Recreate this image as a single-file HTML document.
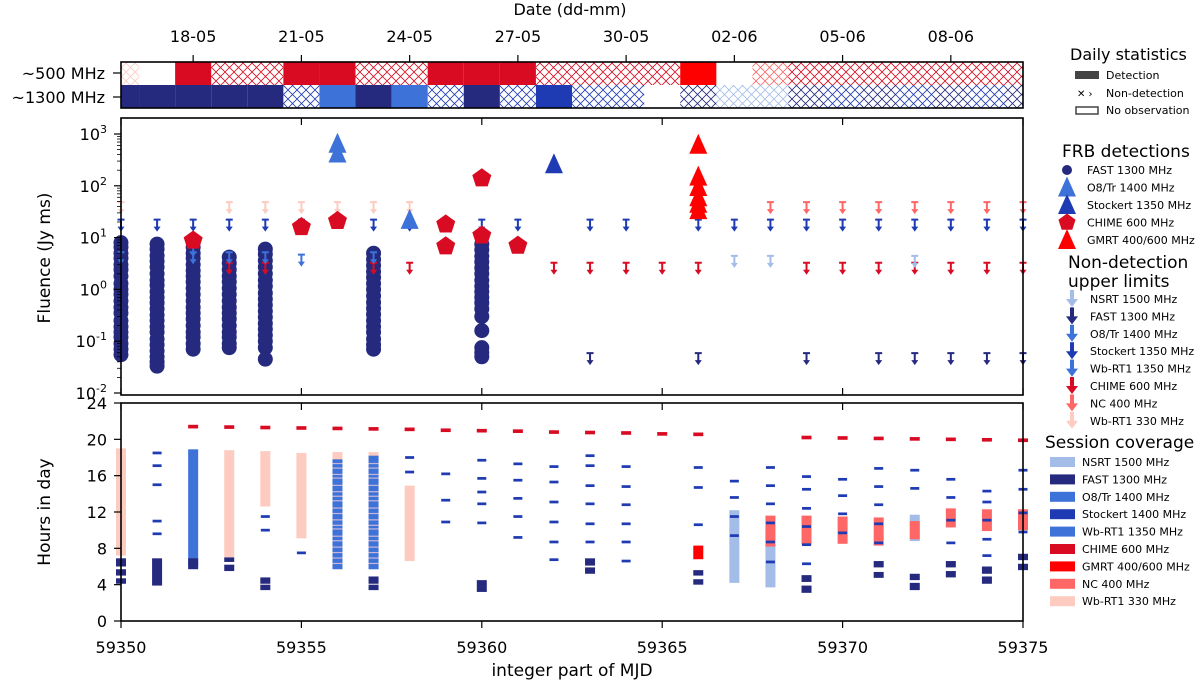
<!DOCTYPE html>
<html><head><meta charset="utf-8"><style>
body{margin:0;background:#fff;}
svg{display:block;font-family:"DejaVu Sans","Liberation Sans",sans-serif;}
</style></head><body>
<svg id="c" width="1200" height="685" viewBox="0 0 1200 685" xmlns="http://www.w3.org/2000/svg">
<defs>
<pattern id="hR" width="9" height="9" patternUnits="userSpaceOnUse"><path d="M0,0L9,9M9,0L0,9" stroke="#d90b22" stroke-width="0.8"/></pattern>
<pattern id="hS" width="9" height="9" patternUnits="userSpaceOnUse"><path d="M0,0L9,9M9,0L0,9" stroke="#ff6666" stroke-width="0.8"/></pattern>
<pattern id="hP" width="9" height="9" patternUnits="userSpaceOnUse"><path d="M0,0L9,9M9,0L0,9" stroke="#fdcbbf" stroke-width="0.8"/></pattern>
<pattern id="hB" width="9" height="9" patternUnits="userSpaceOnUse"><path d="M0,0L9,9M9,0L0,9" stroke="#1f3bb3" stroke-width="0.8"/></pattern>
<pattern id="hN" width="9" height="9" patternUnits="userSpaceOnUse"><path d="M0,0L9,9M9,0L0,9" stroke="#252a7e" stroke-width="0.8"/></pattern>
<pattern id="hL" width="9" height="9" patternUnits="userSpaceOnUse"><path d="M0,0L9,9M9,0L0,9" stroke="#a4bde8" stroke-width="0.8"/></pattern>
</defs>
<g id="top"></g><g id="mid"></g><g id="bot"></g><g id="axes"></g><g id="leg"></g>
</svg>
<script>
// ---------- data ----------
const days = [59350,59351,59352,59353,59354,59355,59356,59357,59358,59359,59360,59361,59362,59363,59364,59365,59366,59367,59368,59369,59370,59371,59372,59373,59374,59375];
const dateTicks = ['18-05','21-05','24-05','27-05','30-05','02-06','05-06','08-06'];
const dateTickMJD = [59352,59355,59358,59361,59364,59367,59370,59373];
const row500 = ['hP','none','#d90b22','hR','hR','#d90b22','#d90b22','hR','hR','#d90b22','#d90b22','#d90b22','hR','hR','hR','hR','#ff0000','none','hS','hR','hR','hR','hR','hR','hR','hR'];
const row1300 = ['#252a7e','#252a7e','#252a7e','#252a7e','#252a7e','hB','#3d72d9','#252a7e','#3d72d9','hB','#252a7e','hB','#1f3bb3','hB','hB','none','hN','hL','hL','hN','hB','hN','hB','hN','hB','hN'];
const fastDays = [59350,59351,59352,59353,59354,59357,59360];
const fastFluence = [
 [8,6.5,5,4,3,2.4,1.8,1.3,1,0.8,0.6,0.45,0.35,0.25,0.19,0.15,0.12,0.09,0.07,0.055],
 [7.5,6,4.5,3.5,2.7,2,1.5,1.2,0.9,0.7,0.55,0.42,0.32,0.25,0.19,0.15,0.11,0.085,0.065,0.05,0.04,0.033],
 [6.5,5,4,3,2.3,1.8,1.4,1.05,0.8,0.6,0.45,0.35,0.27,0.2,0.15,0.12,0.09,0.07],
 [4.2,3.2,2.4,1.8,1.4,1.05,0.8,0.6,0.45,0.35,0.27,0.2,0.15,0.12,0.09,0.075],
 [6,4.8,3.6,2.7,2,1.5,1.15,0.85,0.65,0.5,0.38,0.29,0.22,0.17,0.13,0.1,0.075,0.045],
 [5,3.8,2.9,2.2,1.7,1.3,1,0.75,0.56,0.43,0.33,0.25,0.19,0.15,0.11,0.085,0.07],
 [7.5,5.8,4.4,3.4,2.6,2,1.5,1.15,0.9,0.7,0.55,0.42,0.3,0.16,0.075,0.06,0.05]
];
const o8Days = [59356,59356,59358];
const o8Fluence = [650,420,22];
const stkDays = [59362];
const stkFluence = [260];
const chimeDays = [59352,59355,59356,59359,59359,59360,59360,59361];
const chimeFluence = [8.8,16,21,18,6.8,140,11,7];
const gmrtDays = [59366,59366,59366,59366,59366,59366];
const gmrtFluence = [620,150,95,60,45,34];
const ulPinkDays = [59350,59353,59354,59355,59356,59357,59358]; const ulPinkVal = 37;
const ulNCDays = [59368,59369,59370,59371,59372,59373,59374,59375]; const ulNCVal = 37;
const ulStkDays = [59350,59351,59352,59353,59354,59355,59357,59358,59359,59360,59361,59363,59364,59366,59367,59368,59369,59370,59371,59372,59373,59374,59375]; const ulStkVal = 17;
const ulFastDays = [59363,59366,59369,59371,59372,59373,59374,59375]; const ulFastVal = 0.045;
const ulChimeDays = [59353,59354,59357,59358,59362,59363,59364,59365,59366,59369,59370,59371,59372,59373,59374,59375]; const ulChimeVal = 2.5;
const ulNsrtDays = [59367,59368,59372]; const ulNsrtVal = 3.4;
const ulWbDays = [59350,59352,59352,59353,59354,59355,59357]; const ulWbVal = [4,5.5,4,4,4,3.6,4];
const chimeSessDay = [59352,59353,59354,59355,59356,59357,59358,59359,59360,59361,59362,59363,59364,59365,59366,59369,59370,59371,59372,59373,59374,59375];
const chimeSessHour = [21.4,21.35,21.3,21.25,21.2,21.15,21.1,21.0,20.95,20.9,20.8,20.75,20.7,20.6,20.55,20.2,20.15,20.1,20.05,20.0,19.95,19.9];
const stkSessDay = [59351,59351,59351,59351,59351,59354,59354,59355,59358,59358,59359,59359,59359,59360,59360,59360,59360,59360,59361,59361,59361,59361,59361,59362,59362,59362,59362,59362,59362,59363,59363,59363,59363,59363,59363,59364,59364,59364,59364,59364,59364,59366,59366,59366,59367,59367,59367,59367,59368,59368,59368,59368,59368,59368,59369,59369,59369,59369,59369,59369,59370,59370,59370,59370,59371,59371,59371,59371,59371,59372,59372,59373,59373,59373,59373,59374,59374,59374,59374,59374,59375,59375,59375,59375];
const stkSessHour = [18.5,17.1,15.0,11.0,9.6,11.5,10.0,7.5,18.0,16.4,16.2,13.3,10.9,17.7,15.7,14.2,12.9,10.8,17.3,15.5,13.5,11.5,9.2,17.0,15.3,13.1,10.9,8.7,6.75,18.2,17.1,14.9,12.9,10.7,8.7,17.0,14.8,12.8,10.7,8.7,6.6,16.9,14.7,10.6,15.4,13.6,11.5,9.4,16.9,14.9,12.9,10.8,8.7,6.5,15.9,14.5,12.4,10.4,8.4,6.3,15.6,13.8,11.8,9.7,16.8,14.8,12.8,10.7,8.6,16.6,14.6,15.6,13.6,11.1,8.6,14.3,13.1,11.1,9.0,7.2,16.6,14.5,11.9,9.8];
const fastSessDay = [59350,59350,59350,59351,59352,59353,59353,59354,59354,59357,59357,59360,59360,59363,59363,59366,59366,59369,59369,59371,59371,59372,59372,59373,59373,59374,59374,59375,59375];
const fastSessStart = [6.0,5.0,4.1,3.9,5.7,6.5,5.5,4.1,3.4,4.1,3.4,3.8,3.2,6.1,5.2,5.0,4.0,4.3,3.1,5.9,4.75,4.5,3.4,5.9,4.8,5.2,4.1,6.7,5.6];
const fastSessEnd = [6.9,5.7,4.7,6.9,6.9,7.0,6.2,4.8,4.0,4.9,4.0,4.5,3.8,6.9,5.9,5.6,4.6,5.05,3.9,6.6,5.4,5.2,4.2,6.6,5.5,6.0,4.9,7.4,6.3];
const wb330Day = [59350,59353,59354,59355,59356,59357,59358];
const wb330Start = [7.2,7.0,12.6,9.1,5.7,5.7,6.6];
const wb330End = [19.0,18.8,18.7,18.5,18.6,18.6,14.9];
const wb1350Day = [59352,59356,59357];
const wb1350Start = [6.0,5.7,5.7];
const wb1350End = [18.9,17.8,18.2];
const nsrtDay = [59367,59368,59372];
const nsrtStart = [4.2,3.7,8.8];
const nsrtEnd = [12.2,10.0,11.7];
const ncDay = [59368,59369,59370,59371,59372,59373,59374,59375];
const ncStart = [8.2,8.4,8.5,8.3,9.0,10.3,9.9,10.0];
const ncEnd = [11.6,11.6,11.5,11.4,11.0,12.4,12.3,12.3];
const gmrtSessDay = [59366];
const gmrtSessStart = [6.8];
const gmrtSessEnd = [8.3];
const stripeHours = [17.4,16.9,16.2,15.8,15.0,14.3,13.8,13.3,12.5,11.9,11.2,10.6,10.2,9.4,8.9,8.2,7.6,7.0,6.4];

// ---------- scales ----------
const X0=121, X1=1023;
const x = m => X0 + (m-59350)*(X1-X0)/25;
const yF = v => 134 + (3-Math.log10(v))*51.8;
const yH = h => 621 - h*(218/24);
const NS='http://www.w3.org/2000/svg';
function mk(parent, tag, attrs){const e=document.createElementNS(NS,tag);for(const k in attrs)e.setAttribute(k,attrs[k]);document.getElementById(parent).appendChild(e);return e;}

// ---------- top strip ----------
function strip(row, y0, y1, nm){
  row.forEach((f,i)=>{
    if(f==='none')return;
    let a=Math.max(X0,x(days[i]-0.5)), b=Math.min(X1,x(days[i]+0.5));
    const r=mk('top','rect',{x:a,y:y0,width:b-a,height:y1-y0,fill:f.startsWith('#')?f:'url(#'+f+')'});
    
    
  });
}
strip(row500,62,85,'daily-cell-500mhz');
strip(row1300,85,108,'daily-cell-1300mhz');

// ---------- middle panel ----------
fastDays.forEach((d,i)=>fastFluence[i].forEach(v=>{
  const c=mk('mid','ellipse',{cx:x(d),cy:yF(v),rx:7.5,ry:7.5,fill:'#252a7e'});
  
  
}));
function tri(g,cx,cy,col,nm){const p=mk(g,'polygon',{points:`${cx-9},${cy+9} ${cx+9},${cy+9} ${cx},${cy-11}`,fill:col});
  
  }
function pent(g,cx,cy,col,nm,r){let pts=[];for(let k=0;k<5;k++){const a=-Math.PI/2+k*2*Math.PI/5;pts.push((cx+r*Math.cos(a))+','+(cy+r*Math.sin(a)));}
  const p=mk(g,'polygon',{points:pts.join(' '),fill:col});
  
  }
function arrow(g,cx,cy,col,nm){
  const gg=mk(g,'g',{});
  
  
  const a=document.createElementNS(NS,'path');a.setAttribute('d',`M${cx-3.5},${cy-6}H${cx+3.5}M${cx},${cy-6}V${cy+2}`);a.setAttribute('stroke',col);a.setAttribute('stroke-width','2');gg.appendChild(a);
  const t=document.createElementNS(NS,'polygon');t.setAttribute('points',`${cx-3.5},${cy+1} ${cx+3.5},${cy+1} ${cx},${cy+6}`);t.setAttribute('fill',col);gg.appendChild(t);
}
ulPinkDays.forEach(d=>arrow('mid',x(d),yF(ulPinkVal),'#fdcbbf','ul-wbrt1-330'));
ulNCDays.forEach(d=>arrow('mid',x(d),yF(ulNCVal),'#ff6666','ul-nc-400'));
ulStkDays.forEach(d=>arrow('mid',x(d),yF(ulStkVal),'#1f3bb3','ul-stockert'));
ulFastDays.forEach(d=>arrow('mid',x(d),yF(ulFastVal),'#252a7e','ul-fast'));
ulChimeDays.forEach(d=>arrow('mid',x(d),yF(ulChimeVal),'#d90b22','ul-chime'));
ulNsrtDays.forEach(d=>arrow('mid',x(d),yF(ulNsrtVal),'#a4bde8','ul-nsrt'));
ulWbDays.forEach((d,i)=>arrow('mid',x(d),yF(ulWbVal[i]),'#3d72d9','ul-wbrt1-1350'));
o8Days.forEach((d,i)=>tri('mid',x(d),yF(o8Fluence[i]),'#3d72d9','o8tr-detection'));
stkDays.forEach((d,i)=>tri('mid',x(d),yF(stkFluence[i]),'#1f3bb3','stockert-detection'));
gmrtDays.forEach((d,i)=>tri('mid',x(d),yF(gmrtFluence[i]),'#ff0000','gmrt-detection'));
chimeDays.forEach((d,i)=>pent('mid',x(d),yF(chimeFluence[i]),'#d90b22','chime-detection',10));

// ---------- bottom panel ----------
function bar(d,h0,h1,col,w,nm){const r=mk('bot','rect',{x:x(d)-w/2,y:yH(h1),width:w,height:Math.max(2.5,yH(h0)-yH(h1)),fill:col});
  
  }
wb330Day.forEach((d,i)=>bar(d,wb330Start[i],wb330End[i],'#fdcbbf',10,'session-wbrt1-330'));
wb1350Day.forEach((d,i)=>{bar(d,wb1350Start[i],wb1350End[i],'#3d72d9',10,'session-wbrt1-1350');
  if(i>0)stripeHours.forEach(h=>{if(h<wb1350End[i]&&h>wb1350Start[i]){const s=mk('bot','rect',{x:x(d)-5,y:yH(h),width:10,height:1.2,fill:'#c9b6d6'});
    
    }});});
nsrtDay.forEach((d,i)=>bar(d,nsrtStart[i],nsrtEnd[i],'#a4bde8',10,'session-nsrt'));
ncDay.forEach((d,i)=>bar(d,ncStart[i],ncEnd[i],'#ff6666',10,'session-nc-400'));
gmrtSessDay.forEach((d,i)=>bar(d,gmrtSessStart[i],gmrtSessEnd[i],'#ff0000',10,'session-gmrt'));
fastSessDay.forEach((d,i)=>bar(d,fastSessStart[i],fastSessEnd[i],'#252a7e',10,'session-fast'));
stkSessDay.forEach((d,i)=>bar(d,stkSessHour[i]-0.15,stkSessHour[i]+0.15,'#1f3bb3',9,'session-stockert'));
chimeSessDay.forEach((d,i)=>bar(d,chimeSessHour[i]-0.2,chimeSessHour[i]+0.2,'#d90b22',10,'session-chime'));

// ---------- axes ----------
function line(x1,y1,x2,y2,w,nm){const l=mk('axes','line',{x1,y1,x2,y2,stroke:'#000','stroke-width':w});
  
  }
function text(tx,ty,s,sz,anchor,nm,extra){const t=mk('axes','text',Object.assign({x:tx,y:ty,'font-size':sz,'text-anchor':anchor||'middle',fill:'#000'},extra||{}));t.textContent=s;
  
  return t;}
[[62,108],[118,395],[403,621]].forEach(([a,b])=>{const r=mk('axes','rect',{x:X0,y:a,width:X1-X0,height:b-a,fill:'none',stroke:'#000','stroke-width':1.6});
  
  });
dateTickMJD.forEach((m,i)=>{line(x(m),55,x(m),62,1.2,'date-tick');text(x(m),42,dateTicks[i],16,'middle','date-tick-label');});
text(570,15,'Date (dd-mm)',16,'middle','top-axis-title');
line(113,73,121,73,1.2,'row-tick');line(113,97,121,97,1.2,'row-tick');
text(105,79,'~500 MHz',16,'end','row-label-500');text(105,103,'~1300 MHz',16,'end','row-label-1300');
for(let m=59350;m<=59375;m+=5){
  line(x(m),395,x(m),388,1.2,'x-tick');line(x(m),403,x(m),410,1.2,'x-tick');line(x(m),118,x(m),125,1.2,'x-tick');
  line(x(m),621,x(m),628,1.2,'x-tick');text(x(m),653,String(m),16,'middle','x-tick-label');}
text(572,676,'integer part of MJD',17,'middle','x-axis-title');
for(let p=-2;p<=3;p++){const yy=yF(Math.pow(10,p));line(114,yy,121,yy,1.2,'y-tick-major');
  const t=text(107,yy+6,'10',16,'end','y-tick-label');const s=document.createElementNS(NS,'tspan');s.setAttribute('dy','-7');s.setAttribute('font-size','11');s.textContent=String(p);t.appendChild(s);
  if(p<3)for(let k=2;k<10;k++){const ym=yF(k*Math.pow(10,p));line(117,ym,121,ym,0.8,'y-tick-minor');}}
text(0,0,'Fluence (Jy ms)',17,'middle','y-axis-title-fluence',{transform:'translate(50,258) rotate(-90)'});
for(let h=0;h<=24;h+=4){line(114,yH(h),121,yH(h),1.2,'y-tick');text(107,yH(h)+6,String(h),16,'end','y-tick-label-hours');}
text(0,0,'Hours in day',17,'middle','y-axis-title-hours',{transform:'translate(50,512) rotate(-90)'});

// ---------- legend ----------
function lt(tx,ty,s,sz,nm){const t=mk('leg','text',{x:tx,y:ty,'font-size':sz,fill:'#000'});t.textContent=s;
  
  }
lt(1070,60,'Daily statistics',16,'legend-title-daily');
const r1=mk('leg','rect',{x:1075,y:71,width:24,height:8,fill:'#444'});
lt(1106,79,'Detection',11,'legend-detection');
lt(1077,97,'✕ ›',10,'legend-nondetection-swatch');lt(1106,97,'Non-detection',11,'legend-nondetection');
const r2=mk('leg','rect',{x:1076,y:107,width:22,height:7,fill:'none',stroke:'#444','stroke-width':1.5});
lt(1106,114,'No observation',11,'legend-noobs');
lt(1062,157,'FRB detections',17,'legend-title-frb');
const fr=['FAST 1300 MHz','O8/Tr 1400 MHz','Stockert 1350 MHz','CHIME 600 MHz','GMRT 400/600 MHz'];
fr.forEach((s,i)=>{const yy=170+i*17.5;lt(1087,yy+4,s,11,'legend-frb-entry');
  if(i===0){const c=mk('leg','circle',{cx:1067,cy:yy,r:5,fill:'#252a7e'});}
  else if(i===3){pent('leg',1067,yy,'#d90b22','legend-chime-marker',9);}
  else tri('leg',1067,yy,['','#3d72d9','#1f3bb3','','#ff0000'][i],'legend-tri-marker');});
lt(1068,268,'Non-detection',17,'legend-title-ul');lt(1068,287,'upper limits',17,'legend-title-ul-2');
const ul=[['NSRT 1500 MHz','#a4bde8'],['FAST 1300 MHz','#252a7e'],['O8/Tr 1400 MHz','#3d72d9'],['Stockert 1350 MHz','#1f3bb3'],['Wb-RT1 1350 MHz','#3d72d9'],['CHIME 600 MHz','#d90b22'],['NC 400 MHz','#ff6666'],['Wb-RT1 330 MHz','#fdcbbf']];
ul.forEach(([s,c],i)=>{const yy=299+i*17.4;lt(1090,yy+4,s,11,'legend-ul-entry');
  const p=mk('leg','path',{d:`M1072,${yy-9}V${yy+2}`,stroke:c,'stroke-width':4});
  const t=mk('leg','polygon',{points:`${1066},${yy} ${1078},${yy} 1072,${yy+8}`,fill:c});});
lt(1045,448,'Session coverage',17,'legend-title-session');
const ss=[['NSRT 1500 MHz','#a4bde8'],['FAST 1300 MHz','#252a7e'],['O8/Tr 1400 MHz','#3d72d9'],['Stockert 1400 MHz','#1f3bb3'],['Wb-RT1 1350 MHz','#3d72d9'],['CHIME 600 MHz','#d90b22'],['GMRT 400/600 MHz','#ff0000'],['NC 400 MHz','#ff6666'],['Wb-RT1 330 MHz','#fdcbbf']];
ss.forEach(([s,c],i)=>{const yy=462+i*17.4;lt(1082,yy+4,s,11,'legend-session-entry');
  const r=mk('leg','rect',{x:1050,y:yy-5,width:25,height:10,fill:c});});
</script>
</body></html>
